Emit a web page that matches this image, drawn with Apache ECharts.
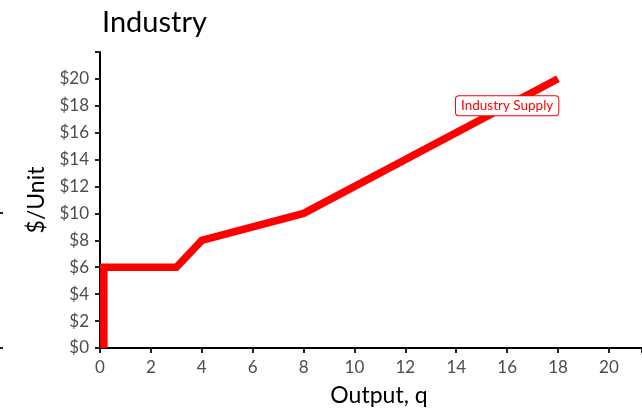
<!DOCTYPE html>
<html><head><meta charset="utf-8">
<script src="https://cdn.jsdelivr.net/npm/echarts@6/dist/echarts.min.js"></script>
<style>html,body{margin:0;padding:0;background:#fff}#c{width:642px;height:411px}</style>
</head><body><div id="c"></div>
<script>
var supplyQ = [0.15, 0.15, 3, 4, 8, 18];
var supplyP = [0, 6, 6, 8, 10, 20];
var xTicks = [0, 2, 4, 6, 8, 10, 12, 14, 16, 18, 20];
var yTicks = [0, 2, 4, 6, 8, 10, 12, 14, 16, 18, 20];
var labelPos = [16, 18];
var labelText = 'Industry Supply';

var FONT = 'Lato';
var chart = echarts.init(document.getElementById('c'), null, {renderer: 'canvas'});
var pts = supplyQ.map(function (q, i) { return [q, supplyP[i]]; });
chart.setOption({
  animation: false,
  backgroundColor: '#fff',
  title: {text: 'Industry', left: 97, top: 3, textStyle: {fontFamily: FONT, fontSize: 29, fontWeight: 'normal', color: '#000'}},
  grid: {left: 100, right: 0, top: 52, bottom: 63, containLabel: false, outerBoundsMode: 'none'},
  xAxis: {
    type: 'value', min: 0, max: 21.3, interval: 2,
    name: 'Output, q', nameLocation: 'middle', nameGap: 36,
    nameTextStyle: {fontFamily: FONT, fontSize: 23, color: '#000', padding: [0, 0, 0, 16]},
    axisLine: {show: true, onZero: false, lineStyle: {color: '#000', width: 2}},
    axisTick: {show: true, length: 5, lineStyle: {color: '#222', width: 2}},
    axisLabel: {fontFamily: FONT, fontSize: 17, color: '#4d4d4d', margin: 11,
      formatter: function (v) { return xTicks.indexOf(v) >= 0 ? String(v) : ''; }},
    splitLine: {show: false}
  },
  yAxis: {
    type: 'value', min: 0, max: 21.99, interval: 2,
    name: '$/Unit', nameLocation: 'middle', nameGap: 48, nameRotate: 90,
    nameTextStyle: {fontFamily: FONT, fontSize: 23, color: '#000'},
    axisLine: {show: true, onZero: false, lineStyle: {color: '#000', width: 2}},
    axisTick: {show: true, length: 5, lineStyle: {color: '#222', width: 2}},
    axisLabel: {fontFamily: FONT, fontSize: 17, color: '#4d4d4d', margin: 11,
      formatter: function (v) { return yTicks.indexOf(v) >= 0 ? '$' + v : ''; }},
    splitLine: {show: false}
  },
  series: [{
    type: 'line', data: pts, showSymbol: false, symbol: 'none',
    lineStyle: {color: '#ff0000', width: 7.5, join: 'miter'},
    clip: false,
    markPoint: {
      symbol: 'rect', symbolSize: 0,
      data: [{coord: labelPos, value: labelText}],
      label: {show: true, position: 'inside', formatter: labelText,
        fontFamily: FONT, fontSize: 13.5, color: '#ff0000',
        backgroundColor: '#fff', borderColor: '#ff0000', borderWidth: 1, borderRadius: 3,
        padding: [3, 5, 2, 5]}
    }
  }],
  graphic: [
    {type: 'rect', shape: {x: 0, y: 212, width: 3, height: 2}, style: {fill: '#222'}},
    {type: 'rect', shape: {x: 0, y: 347, width: 3, height: 2}, style: {fill: '#222'}}
  ]
});
</script></body></html>
